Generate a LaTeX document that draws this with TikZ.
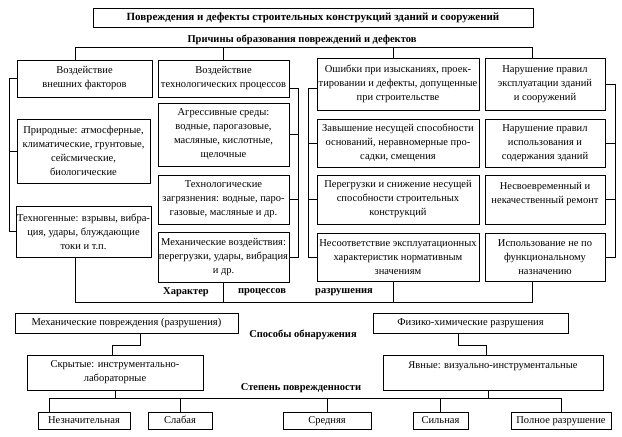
\documentclass[tikz,border=0pt]{standalone}
\usepackage{fontspec}
\setmainfont{Liberation Serif}
\usetikzlibrary{calc}

\begin{document}
\begin{tikzpicture}[x=1pt,y=-1pt]
    \useasboundingbox (0,0) rectangle (622,437);

    \begin{scope}[every node/.style={draw,line width=0.8pt,align=center,inner sep=1pt,
            font=\fontsize{10.5}{14}\selectfont}]
        \node[minimum width=440,minimum height=19,font=\fontsize{11}{14}\selectfont\bfseries]
            (title) at (313,17.5) {Повреждения и дефекты строительных конструкций зданий и сооружений};

        % causes, first row
        \node[minimum width=135,minimum height=37] (b1) at (84.5,78.5) {Воздействие\\внешних факторов};
        \node[minimum width=131,minimum height=37] (b2) at (223.5,78.5) {Воздействие\\технологических процессов};
        \node[minimum width=162,minimum height=52] (b3) at (398,84) {Ошибки при изысканиях, проек-\\тировании и дефекты, допущенные\\при строительстве};
        \node[minimum width=120,minimum height=52] (b4) at (545,84) {Нарушение правил\\эксплуатации зданий\\и сооружений};

        % column 1
        \node[minimum width=133,minimum height=64] (p1) at (83.5,151) {Природные: атмосферные,\\климатические, грунтовые,\\сейсмические,\\биологические};
        \node[minimum width=133,minimum height=51] (p2) at (83.5,231.5) {Техногенные: взрывы, вибра-\\ция, удары, блуждающие\\токи и т.п.};

        % column 2
        \node[minimum width=131,minimum height=63] (a1) at (223.5,134.5) {Агрессивные среды:\\водные, парогазовые,\\масляные, кислотные,\\щелочные};
        \node[minimum width=131,minimum height=49] (a2) at (223.5,199.5) {Технологические\\загрязнения: водные, паро-\\газовые, масляные и др.};
        \node[minimum width=131,minimum height=50] (a3) at (223.5,257) {Механические воздействия:\\перегрузки, удары, вибрация\\и др.};

        % column 3
        \node[minimum width=162,minimum height=48] (c1) at (398,143) {Завышение несущей способности\\оснований, неравномерные про-\\садки, смещения};
        \node[minimum width=162,minimum height=49] (c2) at (398,199.5) {Перегрузки и снижение несущей\\способности строительных\\конструкций};
        \node[minimum width=162,minimum height=48] (c3) at (398,257) {Несоответствие эксплуатационных\\характеристик нормативным\\значениям};

        % column 4
        \node[minimum width=120,minimum height=48] (d1) at (545,143) {Нарушение правил\\использования и\\содержания зданий};
        \node[minimum width=120,minimum height=49] (d2) at (545,199.5) {Несвоевременный и\\некачественный ремонт\\\mbox{}};
        \node[minimum width=120,minimum height=48] (d3) at (545,257) {Использование не по\\функциональному\\назначению};

        % kinds of damage and detection
        \node[minimum width=223,minimum height=20] (m1) at (126.5,323) {Механические повреждения (разрушения)};
        \node[minimum width=195,minimum height=20] (m2) at (470.5,323) {Физико-химические разрушения};
        \node[minimum width=176,minimum height=35] (s1) at (115,372.5) {Скрытые: инструментально-\\лабораторные};
        \node[minimum width=220,minimum height=35] (s2) at (493,372.5) {Явные: визуально-инструментальные\\\mbox{}};
    \end{scope}

    % degree of damage
    \begin{scope}[every node/.style={draw,line width=0.8pt,inner sep=1pt,minimum height=17,
            text height=7.5pt,text depth=2.5pt,font=\fontsize{10.5}{14}\selectfont}]
        \node[minimum width=92] (l1) at (84,420.5) {Незначительная};
        \node[minimum width=64] (l2) at (180,420.5) {Слабая};
        \node[minimum width=88] (l3) at (327,420.5) {Средняя};
        \node[minimum width=55] (l4) at (440.5,420.5) {Сильная};
        \node[minimum width=100] (l5) at (561,420.5) {Полное разрушение};
    \end{scope}

    \begin{scope}[every node/.style={inner sep=0pt,font=\fontsize{10.5}{14}\selectfont\bfseries}]
        \node (cause) at (302,40) {Причины образования повреждений и дефектов};
        \node (xar1) at (186,292) {Характер};
        \node (xar2) at (262,292) {процессов};
        \node (xar3) at (344,292) {разрушения};
        \node (ways) at (303,335) {Способы обнаружения};
        \node (deg) at (301,388) {Степень поврежденности};
    \end{scope}

    \begin{scope}[line width=0.8pt]
        % top bracket
        \draw ([xshift=-9.5pt]b1.north) -- ++(0,-12) -| ([xshift=-13pt]b4.north);
        \draw (b2.north) -- ++(0,-12);
        \draw ([xshift=-5pt]b3.north) -- ++(0,-10);

        % side brackets
        \draw (b1.west) -- ++(-7,0) |- (p2.west);
        \draw (p1.west) -- ++(-7,0);
        \draw ([yshift=-9.5pt]b2.east) -- ++(9,0) |- (a3.east);
        \foreach \n in {a1,a2}{
            \draw (\n.east) -- ++(9,0);
        }
        \draw ([yshift=-4pt]b3.west) -- ++(-8,0) |- (c3.west);
        \foreach \n in {c1,c2}{
            \draw (\n.west) -- ++(-8,0);
        }
        \draw (b4.east) -- ++(10,0) |- (d3.east);
        \foreach \n in {d1,d2}{
            \draw (\n.east) -- ++(10,0);
        }

        % bottom bracket
        \draw ([xshift=-8.5pt]p2.south) -- ++(0,45) -| ([xshift=-13pt]d3.south);
        \draw (a3.south) -- ++(0,20);
        \draw ([xshift=-5pt]c3.south) -- ++(0,21);

        % detection
        \draw ([xshift=13.5pt]m1.south) -- ++(0,12) -| ([xshift=-3pt]s1.north);
        \draw ([xshift=-12.5pt]m2.south) -- ++(0,12) -| ([xshift=-7pt]s2.north);

        % degree
        \draw (s1.south) -- ++(0,9);
        \draw ([xshift=-5pt]s2.south) -- ++(0,9);
        \draw ([xshift=-35pt]l1.north) -- ++(0,-13) -| (l5.north);
        \foreach \n in {l2,l3,l4}{
            \draw (\n.north) -- ++(0,-13);
        }
    \end{scope}
\end{tikzpicture}
\end{document}
